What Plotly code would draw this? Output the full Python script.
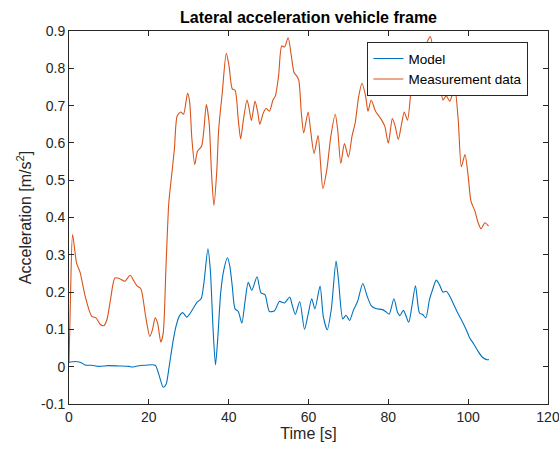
import plotly.graph_objects as go

# Model (blue)
t_model = [0, 1.5, 2.8, 4.2, 5.7, 7.4, 9.9, 12.5, 15.0, 15.9, 17.1, 19.2, 21.6, 22.4, 23.6, 24.3,
           25.1, 26.0, 26.8, 27.7, 28.5, 29.5, 30.4, 31.2, 32.1, 33.1, 33.8, 34.8, 35.4, 36.1,
           36.7, 37.3, 38.0, 38.8, 39.7, 40.3, 40.9, 41.6, 42.4, 43.3, 44.1, 44.9, 45.8, 47.1,
           48.1, 49.1, 50.2, 51.5, 52.7, 54.0, 55.3, 55.9, 56.7, 57.8, 59.0, 59.9, 60.8, 61.6,
           62.9, 63.7, 64.7, 65.7, 66.9, 67.5, 68.6, 69.4, 70.3, 71.3, 72.3, 73.6, 74.7, 75.7,
           76.8, 78.5, 79.3, 80.2, 81.4, 82.3, 82.9, 83.8, 85.1, 85.9, 86.8, 87.8, 88.6, 89.4,
           90.3, 91.1, 92.0, 92.8, 93.7, 94.5, 95.4, 96.2, 97.2, 98.3, 99.4, 100.4, 101.4, 102.5,
           103.5, 104.6, 105.2]
y_model = [0.012, 0.014, 0.012, 0.004, 0.004, 0.001, 0.003, 0.002, 0.001, -0.001, 0.002, 0.004,
           0.004, -0.017, -0.055, -0.048, 0.001, 0.064, 0.108, 0.137, 0.145, 0.133, 0.144, 0.158,
           0.173, 0.182, 0.225, 0.316, 0.26, 0.099, 0.005, 0.081, 0.198, 0.26, 0.292, 0.269,
           0.216, 0.155, 0.148, 0.117, 0.175, 0.226, 0.205, 0.241, 0.198, 0.193, 0.148, 0.15,
           0.175, 0.171, 0.187, 0.166, 0.14, 0.175, 0.1, 0.14, 0.182, 0.155, 0.216, 0.135,
           0.099, 0.153, 0.283, 0.234, 0.128, 0.138, 0.124, 0.153, 0.175, 0.223, 0.189, 0.164,
           0.156, 0.153, 0.148, 0.141, 0.182, 0.146, 0.137, 0.151, 0.119, 0.162, 0.217, 0.144,
           0.14, 0.131, 0.18, 0.207, 0.232, 0.22, 0.2, 0.202, 0.189, 0.171, 0.148, 0.126, 0.102,
           0.077, 0.061, 0.041, 0.026, 0.019, 0.019]

# Measurement data (orange)
t_meas = [0, 0.4, 0.9, 1.9, 2.8, 4.05, 5.7, 6.75, 7.85, 8.7, 9.5, 10.4, 11.5, 12.7, 14.0, 15.3,
          16.3, 17.1, 18.0, 19.2, 20.25, 20.9, 21.6, 22.2, 23.0, 23.6, 24.3, 25.0, 25.6, 26.4,
          27.1, 28.0, 28.7, 29.7, 30.2, 30.8, 31.5, 32.2, 33.2, 33.8, 34.4, 35.1, 35.7, 36.3,
          37.0, 37.5, 38.4, 39.4, 40.1, 40.9, 41.6, 42.4, 43.0, 43.7, 44.6, 45.1, 45.7, 46.6,
          47.3, 47.8, 48.7, 49.4, 50.2, 51.1, 51.7, 52.5, 53.3, 54.0, 54.9, 55.7, 56.4, 57.1,
          57.6, 58.2, 58.8, 59.9, 60.5, 61.4, 62.4, 63.0, 63.6, 64.6, 65.6, 66.7, 67.3, 68.1,
          69.0, 70.0, 70.9, 71.7, 72.6, 73.4, 74.3, 74.9, 75.7, 76.8, 78.1, 79.1, 80.0, 81.0,
          81.7, 82.5, 83.3, 84.0, 84.8, 85.7, 86.3, 87.2, 88.2, 89.3, 90.5, 91.5, 92.8, 93.7,
          94.5, 95.4, 96.6, 97.5, 98.3, 99.2, 100.0, 100.7, 101.7, 102.5, 103.2, 104.2, 105.1]
y_meas = [0.01, 0.2, 0.354, 0.278, 0.252, 0.189, 0.135, 0.131, 0.113, 0.11, 0.126, 0.18, 0.238,
          0.236, 0.229, 0.245, 0.229, 0.216, 0.209, 0.135, 0.081, 0.099, 0.131, 0.117, 0.066,
          0.09, 0.269, 0.439, 0.502, 0.583, 0.672, 0.683, 0.677, 0.733, 0.712, 0.609, 0.542,
          0.578, 0.591, 0.636, 0.703, 0.654, 0.52, 0.432, 0.52, 0.636, 0.735, 0.84, 0.806,
          0.745, 0.741, 0.663, 0.611, 0.663, 0.715, 0.694, 0.66, 0.712, 0.681, 0.65, 0.681,
          0.692, 0.685, 0.715, 0.726, 0.779, 0.86, 0.857, 0.882, 0.833, 0.788, 0.779, 0.766,
          0.681, 0.627, 0.683, 0.636, 0.572, 0.62, 0.547, 0.478, 0.529, 0.618, 0.677, 0.636,
          0.545, 0.598, 0.562, 0.618, 0.654, 0.726, 0.76, 0.726, 0.685, 0.715, 0.685, 0.665,
          0.645, 0.599, 0.665, 0.645, 0.609, 0.65, 0.683, 0.661, 0.744, 0.797, 0.83, 0.85,
          0.862, 0.885, 0.833, 0.764, 0.715, 0.726, 0.712, 0.748, 0.663, 0.536, 0.569, 0.511,
          0.444, 0.417, 0.386, 0.37, 0.386, 0.377]

x_ticks = [0, 20, 40, 60, 80, 100, 120]
y_ticks = [-0.1, 0, 0.1, 0.2, 0.3, 0.4, 0.5, 0.6, 0.7, 0.8, 0.9]
y_tick_labels = ["-0.1", "0", "0.1", "0.2", "0.3", "0.4", "0.5", "0.6", "0.7", "0.8", "0.9"]

FONT = "Liberation Sans, Arial, sans-serif"
AX = "#262626"

fig = go.Figure()
fig.add_trace(go.Scatter(x=t_model, y=y_model, mode="lines", name="Model",
                         line=dict(color="#0072BD", width=1.1, shape="spline", smoothing=0.7)))
fig.add_trace(go.Scatter(x=t_meas, y=y_meas, mode="lines", name="Measurement data",
                         line=dict(color="#D95319", width=1.1, shape="spline", smoothing=0.7)))

axis_common = dict(showline=True, linecolor=AX, linewidth=1, mirror="ticks", ticks="inside",
                   ticklen=5, tickcolor=AX, showgrid=False, zeroline=False,
                   ticklabeloverflow="allow", automargin=False,
                   tickfont=dict(family=FONT, size=14, color=AX))

fig.update_xaxes(range=[0, 120], tickvals=x_ticks,
                 title=dict(text="Time [s]", font=dict(family=FONT, size=16, color=AX), standoff=2),
                 **axis_common)
fig.update_yaxes(range=[-0.1, 0.9], tickvals=y_ticks, ticktext=y_tick_labels,
                 title=dict(text="Acceleration [m/s<sup>2</sup>]", font=dict(family=FONT, size=16, color=AX), standoff=5),
                 **axis_common)

fig.update_layout(
    width=559, height=451,
    margin=dict(l=69, r=11, t=31, b=47, autoexpand=False),
    paper_bgcolor="white", plot_bgcolor="white",
    font=dict(family=FONT, color=AX),
    title=dict(text="<b>Lateral acceleration vehicle frame</b>", x=0.5, xref="paper",
               y=1 - 17 / 451, yref="container", yanchor="middle",
               font=dict(family=FONT, size=16, color="black")),
    legend=dict(x=0.623, y=0.970, xanchor="left", yanchor="top", bgcolor="white",
                bordercolor=AX, borderwidth=1, font=dict(family=FONT, size=13.5, color="black"),
                tracegroupgap=0, itemwidth=30),
    showlegend=True,
)

fig.write_html("out.html")
